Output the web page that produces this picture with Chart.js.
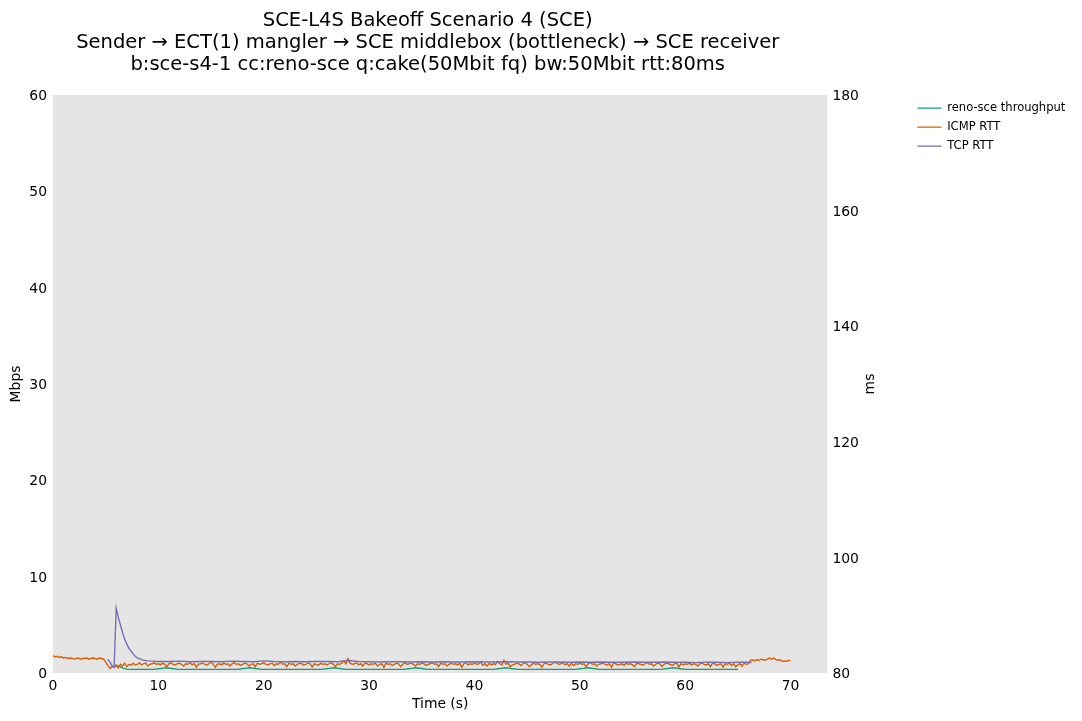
<!DOCTYPE html>
<html>
<head>
<meta charset="utf-8">
<script src="https://cdn.jsdelivr.net/npm/chart.js@4/dist/chart.umd.min.js"></script>
<style>
  html, body { margin: 0; padding: 0; background: #fff; }
  canvas { display: block; }
</style>
</head>
<body>
<canvas id="flent-chart" width="1082" height="721"></canvas>
<script>
// chart text
var titleLines = [
  'SCE-L4S Bakeoff Scenario 4 (SCE)',
  'Sender \u2192 ECT(1) mangler \u2192 SCE middlebox (bottleneck) \u2192 SCE receiver',
  'b:sce-s4-1 cc:reno-sce q:cake(50Mbit fq) bw:50Mbit rtt:80ms'
];
var seriesNames = ['reno-sce throughput', 'ICMP RTT', 'TCP RTT'];
var rightAxisTitle = 'ms';

// tick labels
var xTicks = [0, 10, 20, 30, 40, 50, 60, 70];
var mbpsTicks = [0, 10, 20, 30, 40, 50, 60];
var msTicks = [80, 100, 120, 140, 160, 180];

// ICMP RTT (ms), one sample every 0.2 s starting at 0 s
var icmpStep = 0.2;
var icmpRtt = [
  83.0, 82.8, 82.9, 82.7, 82.8, 82.6, 82.7, 82.5, 82.6, 82.5,
  82.4, 82.5, 82.6, 82.4, 82.5, 82.5, 82.6, 82.4, 82.5, 82.6,
  82.5, 82.4, 82.6, 82.5, 82.4, 81.9, 81.3, 80.8, 81.1, 81.0,
  81.3, 80.9, 81.5, 81.2, 81.7, 81.1, 81.5, 81.3, 81.7, 81.4,
  81.5, 81.8, 81.4, 81.6, 81.7, 81.2, 81.5, 81.6, 81.8, 81.5,
  81.6, 81.4, 81.7, 81.5, 81.1, 81.6, 81.8, 81.5, 81.4, 81.6,
  81.7, 81.5, 81.2, 81.6, 81.5, 81.8, 81.4, 81.6, 81.0, 81.5,
  81.6, 81.7, 81.5, 81.4, 81.6, 81.9, 81.5, 81.0, 81.5, 81.6,
  81.4, 81.7, 81.5, 81.6, 81.2, 81.6, 81.8, 81.5, 81.6, 81.3,
  81.5, 81.7, 81.6, 81.2, 81.5, 81.6, 81.1, 81.7, 81.5, 81.6,
  81.8, 81.5, 81.4, 81.6, 81.7, 81.3, 81.6, 81.5, 81.9, 81.5,
  81.6, 81.1, 81.7, 81.5, 81.6, 81.2, 81.5, 81.7, 81.6, 81.4,
  81.5, 81.7, 81.6, 81.0, 81.6, 81.5, 81.3, 81.7, 81.5, 81.6,
  81.4, 81.6, 81.8, 81.5, 81.1, 81.6, 81.5, 81.7, 82.1, 81.6,
  82.5, 81.7, 81.5, 81.6, 81.8, 81.4, 81.6, 81.2, 81.7, 81.6,
  81.4, 81.6, 81.5, 81.7, 81.2, 81.5, 81.6, 81.0, 81.7, 81.5,
  81.6, 81.3, 81.5, 81.7, 81.6, 81.1, 81.5, 81.8, 81.5, 81.6,
  81.7, 81.5, 81.2, 81.6, 81.5, 81.7, 81.6, 81.3, 81.5, 81.6,
  81.8, 81.5, 81.6, 81.1, 81.7, 81.5, 81.6, 81.2, 81.5, 81.7,
  81.5, 81.6, 81.4, 81.7, 81.0, 81.6, 81.8, 81.4, 81.6, 81.5,
  81.7, 81.5, 81.6, 81.9, 81.3, 81.6, 81.2, 81.7, 81.4, 81.6,
  81.5, 82.0, 81.6, 81.4, 82.2, 81.5, 81.7, 81.1, 81.4, 81.5,
  81.7, 81.6, 81.3, 81.6, 81.8, 81.5, 81.1, 81.4, 81.7, 81.5,
  81.6, 81.5, 81.0, 81.6, 81.7, 81.5, 81.4, 81.6, 81.9, 81.7,
  81.5, 81.6, 81.8, 81.4, 81.6, 81.2, 81.7, 81.3, 81.6, 81.5,
  81.7, 81.5, 81.6, 81.1, 81.6, 81.8, 81.5, 81.6, 81.2, 81.5,
  81.6, 81.7, 81.5, 81.4, 81.6, 81.0, 81.7, 81.6, 81.4, 81.5,
  81.6, 81.3, 81.7, 81.5, 81.6, 81.4, 81.1, 81.7, 81.6, 81.5,
  81.4, 81.6, 81.8, 81.5, 81.6, 81.2, 81.5, 81.7, 81.6, 81.1,
  81.5, 81.7, 81.6, 81.5, 81.3, 81.6, 81.7, 81.0, 81.6, 81.4,
  81.6, 81.5, 81.7, 81.4, 81.6, 81.5, 81.2, 81.6, 81.7, 81.5,
  81.4, 81.6, 81.1, 81.7, 81.6, 81.3, 81.5, 81.6, 81.0, 81.6,
  81.5, 81.7, 81.3, 81.6, 81.1, 81.4, 81.6, 81.2, 81.7, 81.5,
  81.6, 82.2, 82.3, 82.1, 82.3, 82.2, 82.4, 82.3, 82.2, 82.4,
  82.6, 82.4, 82.6, 82.3, 82.2, 82.3, 82.0, 82.1, 82.0, 82.2,
  82.1
];

// TCP RTT (ms)
var tcpTime = [
  5.2, 5.4, 5.6, 5.8, 6.0, 6.2, 6.4, 6.6, 6.8, 7.0, 7.2, 7.4, 7.6, 7.8, 8.0, 8.3, 8.6, 9.0, 9.5, 10,
  11, 12, 13, 14, 15, 16, 17, 18, 19, 20, 21, 22, 23, 24, 25, 26, 27, 28, 29, 30,
  31, 32, 33, 34, 35, 36, 37, 38, 39, 40, 41, 42, 43, 44, 45, 46, 47, 48, 49, 50,
  51, 52, 53, 54, 55, 56, 57, 58, 59, 60, 61, 62, 63, 64, 65, 66, 66.3
];
var tcpRtt = [
  82.4, 81.9, 81.3, 81.0, 91.2, 89.6, 88.3, 87.0, 85.9, 85.0, 84.3, 83.8, 83.3, 82.9, 82.6, 82.4, 82.2, 82.1, 82.05, 82.0,
  82.0, 82.05, 81.95, 82.0, 82.0, 81.95, 82.05, 82.0, 81.95, 82.1, 82.0, 81.95, 82.0, 81.95, 82.0, 82.0, 81.95, 82.15, 82.0, 81.95,
  81.9, 81.95, 81.95, 81.9, 81.95, 81.9, 81.95, 81.9, 81.9, 81.95, 81.9, 81.9, 81.95, 81.9, 81.9, 81.85, 81.9, 81.9, 81.85, 81.9,
  81.85, 81.9, 81.85, 81.85, 81.9, 81.85, 81.85, 81.9, 81.85, 81.85, 81.8, 81.85, 81.85, 81.8, 81.85, 81.85, 81.8
];

// reno-sce throughput (Mbps)
var tputTime = [
  5.9, 6.3, 6.7, 7.1, 9.6, 10.2, 10.7, 11.3, 11.9,
  17.5, 18.1, 18.6, 19.2, 19.8, 25.5, 26.1, 26.6, 27.2, 27.8,
  33.3, 33.9, 34.4, 35.0, 35.6, 41.8, 42.4, 42.9, 43.5, 44.1,
  49.6, 50.2, 50.7, 51.3, 51.9, 57.7, 58.3, 58.8, 59.4, 60.0, 65.0
];
var tputMbps = [
  0.83, 0.68, 0.48, 0.38, 0.38, 0.46, 0.55, 0.47, 0.38,
  0.38, 0.46, 0.55, 0.47, 0.38, 0.38, 0.46, 0.55, 0.47, 0.38,
  0.38, 0.46, 0.55, 0.47, 0.38, 0.38, 0.46, 0.55, 0.47, 0.38,
  0.38, 0.46, 0.55, 0.47, 0.38, 0.38, 0.46, 0.55, 0.47, 0.38, 0.38
];

function toPoints(xs, ys) {
  var pts = [];
  for (var i = 0; i < ys.length; i++) {
    pts.push({x: xs[i], y: ys[i]});
  }
  return pts;
}

var icmpTime = icmpRtt.map(function (v, i) { return +(i * icmpStep).toFixed(1); });

var fontFamily = "'DejaVu Sans', 'Liberation Sans', sans-serif";
Chart.defaults.font.family = fontFamily;
Chart.defaults.color = '#000';

var tickFont = {size: 13.9};

// grey plot background like the matplotlib style
var plotBackground = {
  id: 'plotBackground',
  beforeDraw: function (chart) {
    var a = chart.chartArea;
    var ctx = chart.ctx;
    ctx.save();
    ctx.fillStyle = '#e5e5e5';
    ctx.fillRect(a.left, a.top, a.right - a.left, a.bottom - a.top);
    ctx.restore();
  }
};

// the title is centred on the original figure, a bit left of the axes centre
var titleNudge = {
  id: 'titleNudge',
  afterLayout: function (chart) {
    chart.titleBlock.left -= 12.5;
    chart.titleBlock.right -= 12.5;
  }
};

// matplotlib writes the right axis label bottom-to-top, chart.js does the opposite
var rightTitle = {
  id: 'rightTitle',
  afterDraw: function (chart) {
    var s = chart.scales.y1;
    var ctx = chart.ctx;
    ctx.save();
    ctx.translate(s.left + 43, (s.top + s.bottom) / 2);
    ctx.rotate(-Math.PI / 2);
    ctx.font = tickFont.size + 'px ' + fontFamily;
    ctx.fillStyle = '#000';
    ctx.textAlign = 'center';
    ctx.textBaseline = 'middle';
    ctx.fillText(rightAxisTitle, 0, 0);
    ctx.restore();
  }
};

function fixedTicks(list) {
  return function (scale) {
    scale.ticks = list.map(function (v) { return {value: v}; });
  };
}

new Chart('flent-chart', {
  type: 'line',
  data: {
    datasets: [{
      label: seriesNames[0],
      data: toPoints(tputTime, tputMbps),
      yAxisID: 'y',
      borderColor: '#1b9e77',
      backgroundColor: '#1b9e77',
      borderWidth: 1.4,
      order: 3
    }, {
      label: seriesNames[1],
      data: toPoints(icmpTime, icmpRtt),
      yAxisID: 'y1',
      borderColor: '#d95f02',
      backgroundColor: '#d95f02',
      borderWidth: 1.4,
      order: 2
    }, {
      label: seriesNames[2],
      data: toPoints(tcpTime, tcpRtt),
      yAxisID: 'y1',
      borderColor: '#7570b3',
      backgroundColor: '#7570b3',
      borderWidth: 1.4,
      order: 1
    }]
  },
  options: {
    responsive: false,
    animation: false,
    devicePixelRatio: 1,
    parsing: false,
    elements: {
      point: {radius: 0, hoverRadius: 0},
      line: {tension: 0, fill: false}
    },
    layout: {padding: {left: 0, right: 6.6, top: 0, bottom: 0}},
    plugins: {
      tooltip: {enabled: false},
      title: {
        display: true,
        text: titleLines,
        fullSize: false,
        color: '#000',
        font: {size: 19.5, weight: 'normal', lineHeight: 1.128},
        padding: {top: 10, bottom: 19}
      },
      legend: {
        display: true,
        position: 'right',
        align: 'start',
        fullSize: false,
        labels: {
          usePointStyle: true,
          pointStyle: 'line',
          pointStyleWidth: 24,
          padding: 7.4,
          color: '#000',
          font: {size: 11.57},
          sort: function (a, b) { return a.datasetIndex - b.datasetIndex; }
        }
      }
    },
    scales: {
      x: {
        type: 'linear',
        min: 0,
        max: 73.5,
        afterBuildTicks: fixedTicks(xTicks),
        afterFit: function (s) { s.height = 48; },
        grid: {display: false, drawTicks: false},
        border: {display: false},
        ticks: {font: tickFont, padding: 4.7, autoSkip: false, maxRotation: 0},
        title: {display: true, text: 'Time (s)', font: tickFont, padding: {top: 2, bottom: 8.7}}
      },
      y: {
        type: 'linear',
        position: 'left',
        min: 0,
        max: 60,
        afterBuildTicks: fixedTicks(mbpsTicks),
        afterFit: function (s) { s.width = 53; },
        grid: {display: false, drawTicks: false},
        border: {display: false},
        ticks: {font: tickFont, padding: 6, autoSkip: false, labelOffset: 1.5},
        title: {display: true, text: 'Mbps', font: tickFont, padding: {top: 7.7, bottom: 4.9}}
      },
      y1: {
        type: 'linear',
        position: 'right',
        min: 80,
        max: 180,
        afterBuildTicks: fixedTicks(msTicks),
        afterFit: function (s) { s.width = 82.6; },
        grid: {display: false, drawTicks: false},
        border: {display: false},
        ticks: {font: tickFont, padding: 5, autoSkip: false, labelOffset: 1.5},
        title: {display: false}
      }
    }
  },
  plugins: [plotBackground, titleNudge, rightTitle]
});
</script>
</body>
</html>
